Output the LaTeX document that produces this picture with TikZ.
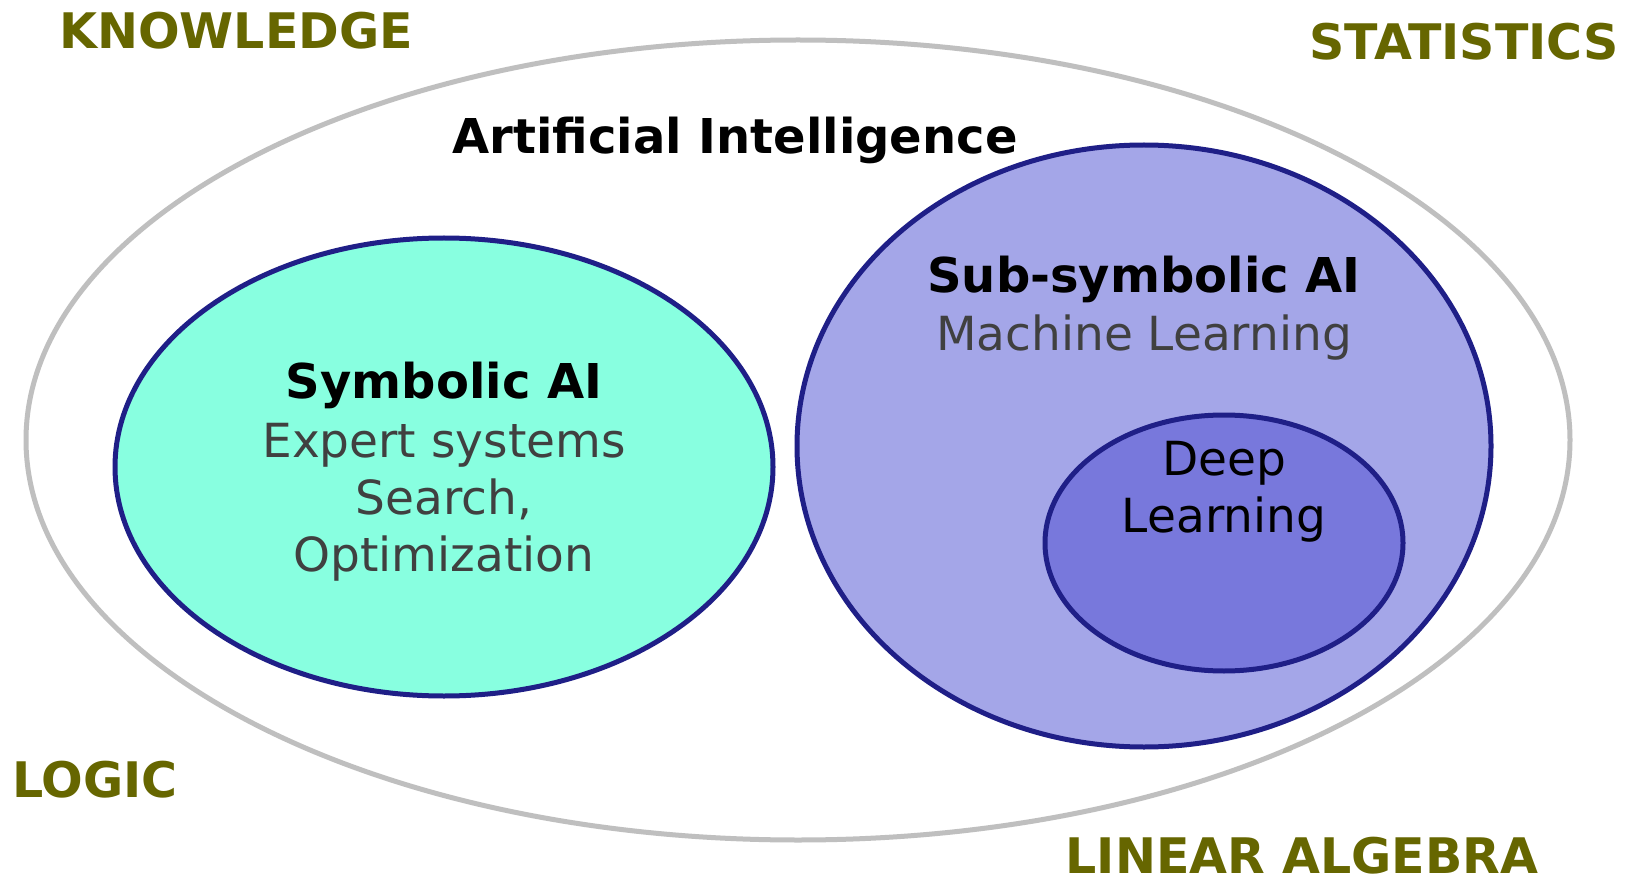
\documentclass[tikz,border=0pt]{standalone}
\usepackage{fontspec}
\setmainfont{DejaVu Sans}
\definecolor{field color}{HTML}{666600}
\definecolor{outer color}{HTML}{BFBFBF}
\definecolor{border color}{HTML}{1F1F87}
\definecolor{symbolic color}{HTML}{88FFE0}
\definecolor{subsymbolic color}{HTML}{A4A6E8}
\definecolor{deep color}{HTML}{7878DC}
\definecolor{note color}{HTML}{404040}
\tikzset{
    x={1pt},
    y={-1pt},
    field label/.style={
        font={\fontsize{49}{56}\selectfont\bfseries},
        text={field color},
        inner sep=0pt,
    },
    area/.style={
        fill={#1},
        draw={border color},
        line width={5pt},
    },
    outer area/.style={
        draw={outer color},
        line width={5pt},
    },
    area title/.style={
        font={\fontsize{48}{57}\selectfont\bfseries},
        inner sep=0pt,
    },
    area note/.style={
        font={\fontsize{47}{57}\selectfont},
        text={note color},
        align=center,
        inner sep=0pt,
    },
}

\begin{document}
\begin{tikzpicture}
% background
\path[fill=white, use as bounding box] (0,0) rectangle (1644,885);
% areas
\path[outer area] (798,440) ellipse [x radius=772, y radius=400];
\path[area={symbolic color}] (444,467) ellipse [x radius=329, y radius=229];
\path[area={subsymbolic color}] (1144,446) ellipse [x radius=347, y radius=301];
\path[area={deep color}] (1224,543) ellipse [x radius=179, y radius=128];
% titles
\node[area title] (ai) at (735,140) {Artificial Intelligence};
\node[area title] (symbolic) at (444,385) {Symbolic AI};
\node[area note, anchor=north] (symbolic note) at (444,423) {Expert systems\\Search,\\Optimization};
\node[area title] (subsymbolic) at (1144,279) {Sub-symbolic AI};
\node[area note] (ml) at (1144,338) {Machine Learning};
\node[area note, text=black, anchor=north] (dl) at (1224,441) {Deep\\Learning};
% fields
\node[field label] (knowledge) at (236,31) {KNOWLEDGE};
\node[field label] (statistics) at (1464,42) {STATISTICS};
\node[field label] (logic) at (95,780) {LOGIC};
\node[field label] (linalg) at (1302,856) {LINEAR ALGEBRA};
\end{tikzpicture}
\end{document}
